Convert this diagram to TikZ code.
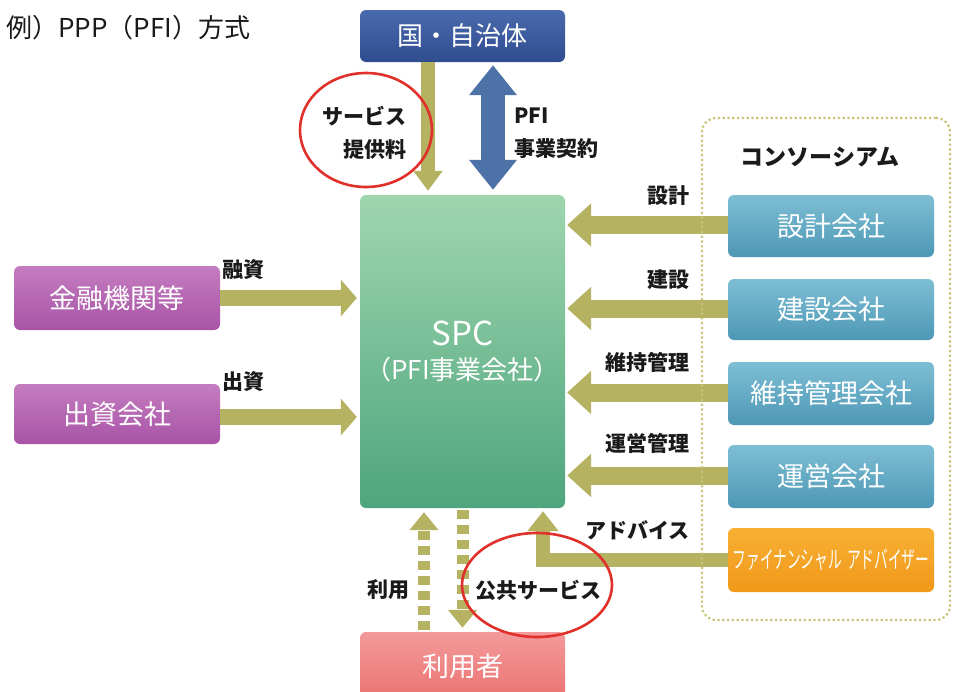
\documentclass[tikz,border=0pt]{standalone}
\usepackage{fontspec}
\setmainfont{Noto Sans CJK JP}
\usetikzlibrary{arrows.meta,shapes.geometric}
\definecolor{olivearr}{HTML}{B5B262}
\definecolor{bluearr}{HTML}{4D72A8}
\definecolor{redring}{HTML}{E0302A}
\definecolor{dotc}{HTML}{C9C27A}
\definecolor{labc}{HTML}{1A1A1A}
\definecolor{HTML4A6AAE}{HTML}{4A6AAE}
\definecolor{HTML2F4C8E}{HTML}{2F4C8E}
\definecolor{HTML9FD6AE}{HTML}{9FD6AE}
\definecolor{HTML4EA57E}{HTML}{4EA57E}
\definecolor{HTMLC47CC0}{HTML}{C47CC0}
\definecolor{HTMLA854A6}{HTML}{A854A6}
\definecolor{HTML7DBED4}{HTML}{7DBED4}
\definecolor{HTML4E98B6}{HTML}{4E98B6}
\definecolor{HTMLF8B033}{HTML}{F8B033}
\definecolor{HTMLF0981A}{HTML}{F0981A}
\definecolor{HTMLF39A9A}{HTML}{F39A9A}
\definecolor{HTMLEC7272}{HTML}{EC7272}
\tikzset{
  box/.style={rounded corners=6pt, text=white, inner sep=0pt, draw=none,
    font=\fontsize{27}{30}\selectfont},
  govbox/.style={box, top color=HTML4A6AAE, bottom color=HTML2F4C8E},
  spcbox/.style={box, top color=HTML9FD6AE, bottom color=HTML4EA57E},
  finbox/.style={box, top color=HTMLC47CC0, bottom color=HTMLA854A6},
  conbox/.style={box, top color=HTML7DBED4, bottom color=HTML4E98B6},
  fabox/.style={box, top color=HTMLF8B033, bottom color=HTMLF0981A},
  usrbox/.style={box, top color=HTMLF39A9A, bottom color=HTMLEC7272},
  lbl/.style={text=labc, inner sep=0pt, font=\fontsize{21}{33}\selectfont\bfseries},
  ring/.style={ellipse, draw=redring, line width=2.6pt, inner sep=0pt},
  wideL/.style={draw=olivearr, line width=16pt, -{Triangle[length=16pt,width=36pt]}, shorten >=3pt},
  wideR/.style={draw=olivearr, line width=18pt, -{Triangle[length=24pt,width=42pt]}, shorten >=2pt},
  feearr/.style={draw=olivearr, line width=14pt, -{Triangle[length=20pt,width=28pt]}, shorten >=4pt},
  dasharr/.style={draw=olivearr, line width=12pt, dash pattern=on 9pt off 6pt, -{Triangle[length=18pt,width=28pt]}, shorten >=4pt, shorten <=2pt},
}
\begin{document}
\begin{tikzpicture}[x=1pt,y=-1pt]
\useasboundingbox[fill=white] (0,0) rectangle (955,691);

% title
\node[anchor=west, inner sep=0pt, font=\fontsize{26}{28}\selectfont, text=labc] (title) at (6,28) {例）PPP（PFI）方式};

% boxes
\node[govbox, minimum width=205pt, minimum height=52pt, font=\fontsize{26}{30}\selectfont] (gov) at (462.5,36) {国・自治体};
\node[spcbox, minimum width=205pt, minimum height=313pt, align=center] (spc) at (462.5,351.5)
  {\fontsize{33}{40}\selectfont SPC\\[4pt]\fontsize{26}{34}\selectfont （PFI事業会社）};
\node[finbox, minimum width=206pt, minimum height=64pt] (kin) at (117,298) {金融機関等};
\node[finbox, minimum width=206pt, minimum height=60pt] (shu) at (117,414) {出資会社};
\node[conbox, minimum width=206pt, minimum height=62pt] (sek) at (831,226) {設計会社};
\node[conbox, minimum width=206pt, minimum height=61pt] (ken) at (831,309.5) {建設会社};
\node[conbox, minimum width=206pt, minimum height=63pt] (iji) at (831,393.5) {維持管理会社};
\node[conbox, minimum width=206pt, minimum height=63pt] (une) at (831,476.5) {運営会社};
\node[fabox, minimum width=206pt, minimum height=64pt, font=\fontsize{24}{26}\selectfont] (fa) at (831,560)
  {\scalebox{0.57}[1]{ファイナンシャル\hspace{0.4em}アドバイザー}};
\node[usrbox, minimum width=205pt, minimum height=68pt] (usr) at (462.5,666) {利用者};

% arrows top
\draw[feearr] ([xshift=-34.5pt]gov.south) -- ([xshift=-34.5pt]spc.north);
\draw[draw=bluearr, line width=24pt, {Triangle[length=30pt,width=46pt]}-{Triangle[length=30pt,width=46pt]}, shorten <=3pt, shorten >=5pt]
  ([xshift=30.5pt]gov.south) -- ([xshift=30.5pt]spc.north);

% left arrows
\draw[wideL] (kin.east) -- (spc.west |- kin.east);
\draw[wideL] ([yshift=-3pt]shu.east) -- ([yshift=-3pt]spc.west |- shu.east);

% right arrows
\draw[wideR] ([yshift=1pt]sek.west) -- ([yshift=1pt]spc.east |- sek.west);
\draw[wideR] ([yshift=1pt]ken.west) -- ([yshift=1pt]spc.east |- ken.west);
\draw[wideR] ([yshift=1pt]iji.west) -- ([yshift=1pt]spc.east |- iji.west);
\draw[wideR] ([yshift=1pt]une.west) -- ([yshift=1pt]spc.east |- une.west);

% advice elbow arrow
\draw[draw=olivearr, line width=14pt, line join=miter, -{Triangle[length=20pt,width=30pt]}, shorten >=3pt]
  (fa.west) -| ([xshift=80.5pt]spc.south);

% dashed arrows
\draw[dasharr] ([xshift=-38.5pt]usr.north) -- ([xshift=-38.5pt]spc.south);
\draw[dasharr] (spc.south) -- (usr.north);

% consortium frame
\node[draw=dotc, line width=2.2pt, dash pattern=on 2.2pt off 2.6pt, rounded corners=14pt,
  minimum width=248pt, minimum height=502pt, inner sep=0pt] (cons) at (826,369) {};
\node[lbl, font=\fontsize{23}{26}\selectfont\bfseries] (consl) at (820,157) {コンソーシアム};

% labels
\node[lbl, align=right, anchor=east] (svc) at (407,133) {サービス\\提供料};
\node[lbl, align=left, anchor=west] (pfi) at (514,133) {PFI\\事業契約};
\node[lbl, anchor=west] (yushi) at (222,270) {融資};
\node[lbl, anchor=west] (shushi) at (222,382) {出資};
\node[lbl, anchor=east] (l1) at (690,196) {設計};
\node[lbl, anchor=east] (l2) at (690,280) {建設};
\node[lbl, anchor=east] (l3) at (690,362) {維持管理};
\node[lbl, anchor=east] (l4) at (690,443) {運営管理};
\node[lbl, anchor=east] (l5) at (690,530) {アドバイス};
\node[lbl, anchor=east] (riyo) at (410,590) {利用};
\node[lbl, anchor=west] (koky) at (475,590) {公共サービス};

% red rings
\node[ring, minimum width=132pt, minimum height=114pt] (r1) at (366,130) {};
\node[ring, minimum width=150pt, minimum height=104pt] (r2) at (537,585) {};
\end{tikzpicture}
\end{document}
